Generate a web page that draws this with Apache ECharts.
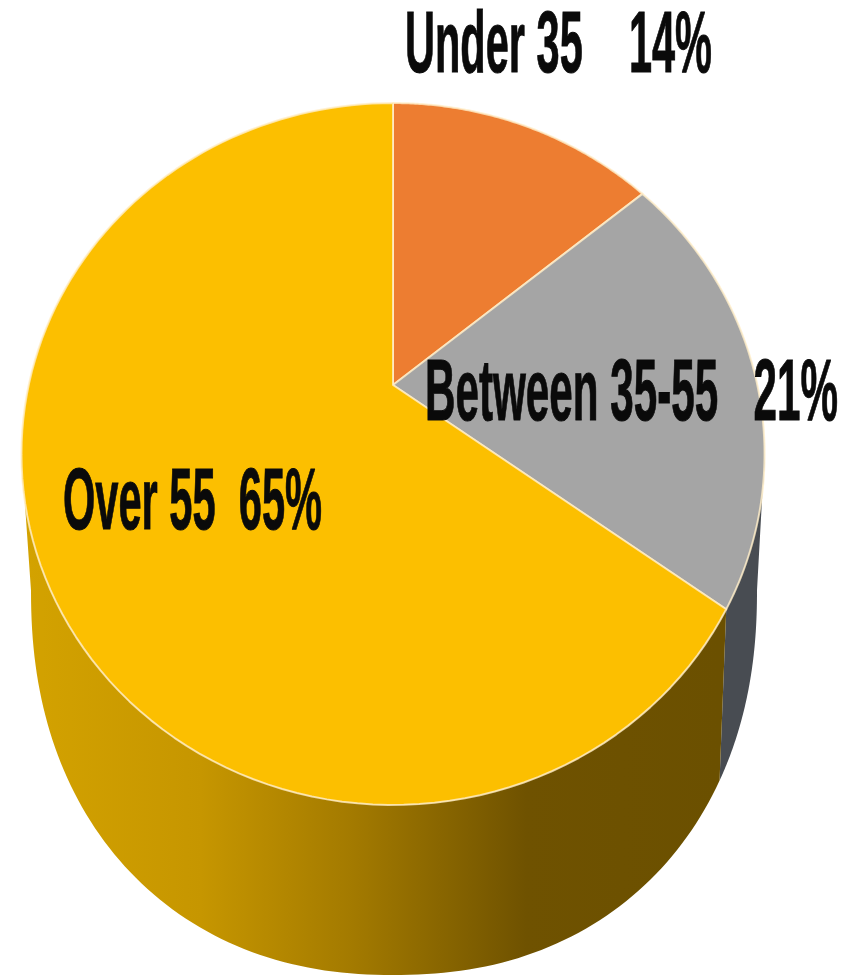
<!DOCTYPE html>
<html>
<head>
<meta charset="utf-8">
<style>html,body{margin:0;padding:0;background:#fff}#c{width:846px;height:978px;filter:blur(0.7px)}</style>
<script src="https://cdn.jsdelivr.net/npm/echarts@6/dist/echarts.min.js"></script>
</head>
<body>
<div id="c"></div>
<script>
const categories = ['Under 35', 'Between 35-55', 'Over 55'];
const shares = [14, 21, 65];
const gaps = ['    ', '   ', '  '];

// perspective disc
const P = { cx: 393, cy: 385, a: 364.3, b: 337.4, k: 0.1966 };
// floor curve of the wall
const F = { cx: 394, cy: 590, rx: 363, ry: 385, n: 2.2 };
const topColors = ['#ED7D31', '#A5A5A5', '#FCBF00'];
const labelStyle = [
  { x: 405, y: 48, w: 307 },
  { x: 425, y: 396, w: 413 },
  { x: 63, y: 505, w: 259 }
];
const FONT = 'bold 88px "Liberation Sans Narrow", "Liberation Sans", sans-serif';

function rim(t) {
  const u = Math.sin(t), v = -Math.cos(t), d = 1 - P.k * v;
  return [P.cx + P.a * u / d, P.cy + P.b * v / d];
}
const RIM_HALF = P.a / Math.sqrt(1 - P.k * P.k);
function floor(t) {
  const r = Math.min(1, Math.abs(rim(t)[0] - P.cx) / RIM_HALF);
  const x = F.cx + Math.sign(rim(t)[0] - P.cx) * r * F.rx;
  return [x, F.cy + F.ry * Math.pow(1 - Math.pow(r, F.n), 1 / F.n)];
}
const total = shares.reduce((a, b) => a + b, 0);
function span(i) {
  let s = 0;
  for (let j = 0; j < i; j++) s += shares[j];
  return [s / total * 2 * Math.PI, (s + shares[i]) / total * 2 * Math.PI];
}
function arc(t0, t1, fn) {
  const out = [], n = 120;
  for (let i = 0; i <= n; i++) out.push(fn(t0 + (t1 - t0) * i / n));
  return out;
}
const LEFT = 258.7 * Math.PI / 180, RIGHT = 101.3 * Math.PI / 180;
const wallFill = [
  null,
  '#484C52',
  { type: 'linear', x: 28, y: 0, x2: 720, y2: 0, global: true, colorStops: [
    { offset: 0, color: '#D3A200' }, { offset: 0.25, color: '#C69600' },
    { offset: 0.47, color: '#A37A00' }, { offset: 0.72, color: '#6F5200' }, { offset: 1, color: '#6B5000' } ] }
];

const chart = echarts.init(document.getElementById('c'), null, { renderer: 'canvas' });
const data = categories.map((c, i) => ({ name: c, value: shares[i] }));
chart.setOption({
  animation: false,
  backgroundColor: '#fff',
  series: [
    {
      type: 'custom', coordinateSystem: 'none', z: 1, data,
      renderItem(params) {
        const i = params.dataIndex;
        const [s, e] = span(i);
        const t0 = Math.max(s, RIGHT), t1 = Math.min(e, LEFT);
        if (t1 <= t0) return { type: 'group', children: [] };
        const pts = arc(t0, t1, rim).concat(arc(t0, t1, floor).reverse());
        return { type: 'polygon', shape: { points: pts }, style: { fill: wallFill[i] } };
      }
    },
    {
      type: 'custom', coordinateSystem: 'none', z: 2, data,
      renderItem(params) {
        const i = params.dataIndex;
        const [s, e] = span(i);
        const pts = [[P.cx, P.cy]].concat(arc(s, e, rim));
        return {
          type: 'polygon', shape: { points: pts },
          style: { fill: topColors[i], stroke: 'rgba(255,238,200,0.8)', lineWidth: 2, lineJoin: 'round' }
        };
      }
    },
    {
      type: 'custom', coordinateSystem: 'none', z: 3, data,
      renderItem(params) {
        const i = params.dataIndex;
        const txt = categories[i] + gaps[i] + shares[i] + '%';
        const L = labelStyle[i];
        const natural = echarts.format.getTextRect ? echarts.format.getTextRect(txt, FONT).width : L.w;
        return {
          type: 'text', x: L.x, y: L.y, scaleX: L.w / natural, scaleY: 1,
          style: { text: txt, font: FONT, fill: '#0a0a0a', stroke: '#0a0a0a', lineWidth: 1, align: 'left', verticalAlign: 'middle' }
        };
      }
    }
  ]
});
</script>
</body>
</html>
